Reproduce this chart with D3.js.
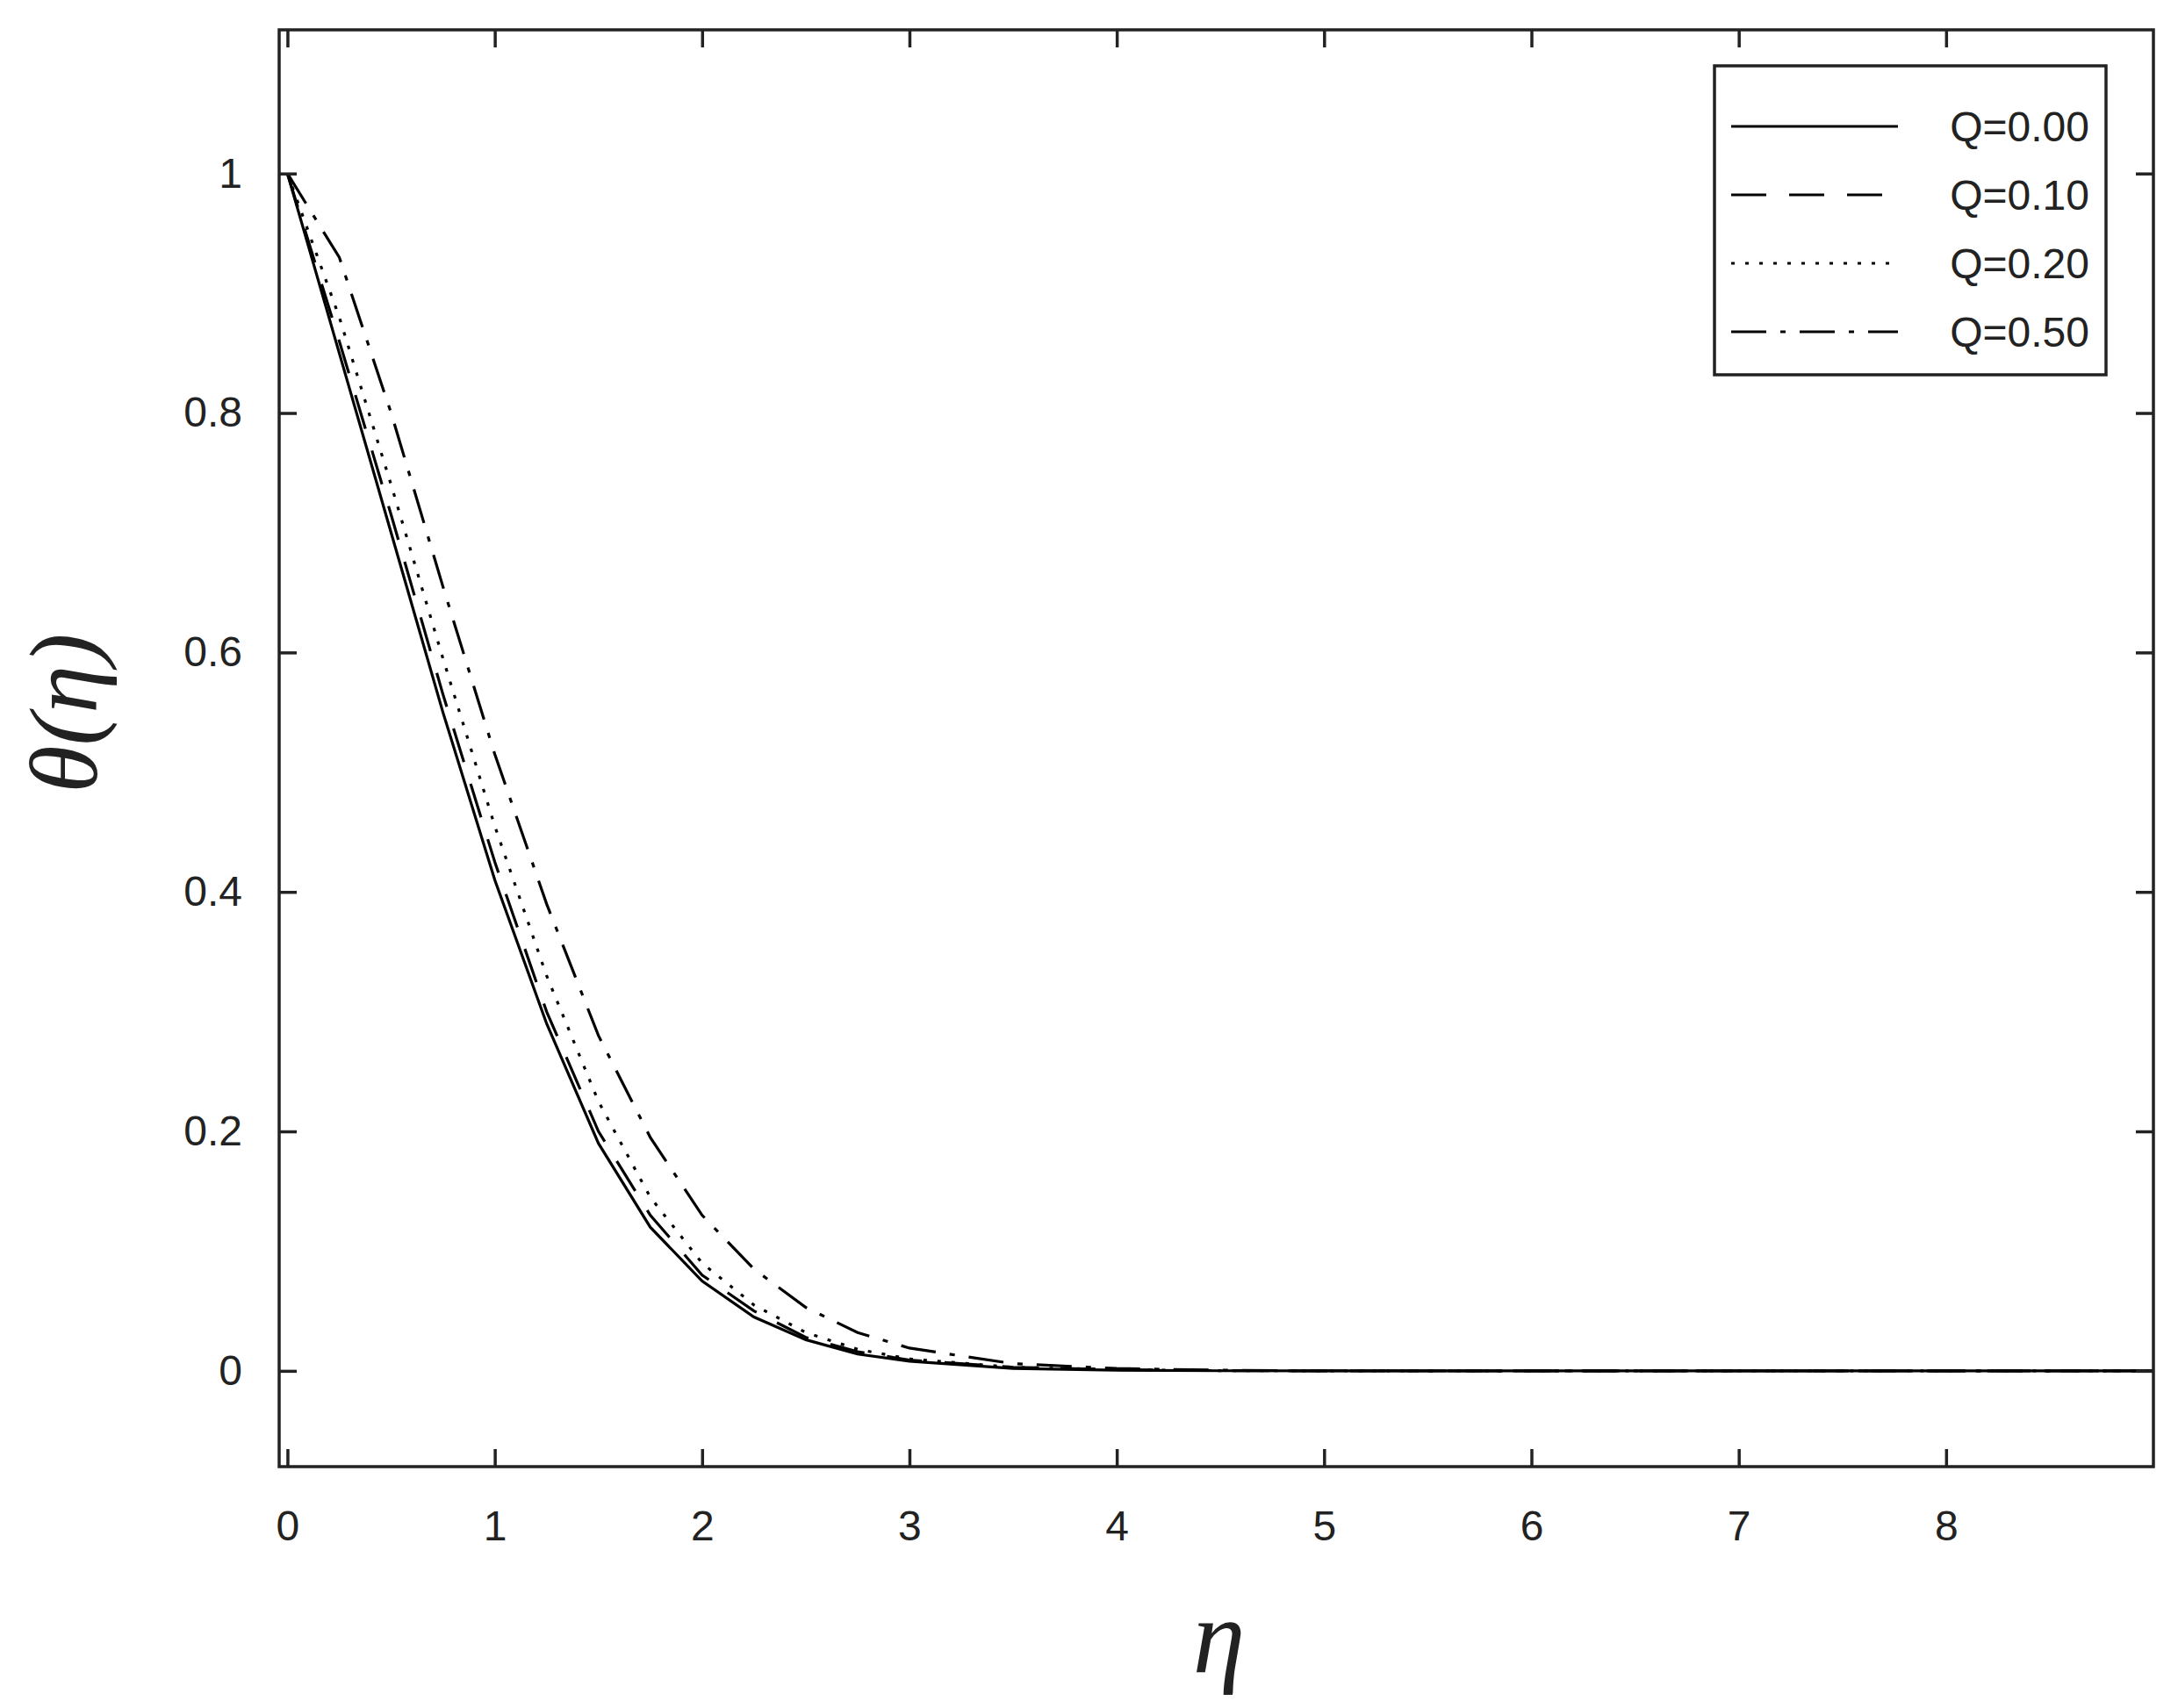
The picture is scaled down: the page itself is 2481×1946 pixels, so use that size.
<!DOCTYPE html>
<html><head><meta charset="utf-8">
<script src="https://cdn.jsdelivr.net/npm/d3@7"></script>
<style>body{margin:0;background:#fff}</style></head>
<body><div id="chart"></div>
<script>
const eta = [0, 0.25, 0.5, 0.75, 1, 1.25, 1.5, 1.75, 2, 2.25, 2.5, 2.75, 3, 3.5, 4, 4.5, 5, 6, 7, 8, 9];
const q000 = [1, 0.85, 0.70, 0.55, 0.41, 0.29, 0.19, 0.12, 0.075, 0.045, 0.026, 0.014, 0.008, 0.002, 0.0005, 0.0001, 0, 0, 0, 0, 0];
const q010 = [1, 0.86, 0.715, 0.565, 0.425, 0.30, 0.20, 0.13, 0.08, 0.05, 0.028, 0.016, 0.009, 0.003, 0.001, 0.0002, 0, 0, 0, 0, 0];
const q020 = [1, 0.88, 0.74, 0.595, 0.455, 0.33, 0.225, 0.145, 0.09, 0.055, 0.032, 0.018, 0.01, 0.003, 0.001, 0.0002, 0, 0, 0, 0, 0];
const q050 = [1, 0.93, 0.80, 0.655, 0.515, 0.39, 0.28, 0.195, 0.13, 0.085, 0.053, 0.032, 0.019, 0.006, 0.002, 0.0005, 0.0001, 0, 0, 0, 0];
const labels = ["Q=0.00", "Q=0.10", "Q=0.20", "Q=0.50"];
const dashes = [null, "40,26", "4,12", "40,16,6,16"];
const series = [q000, q010, q020, q050];
const xTicks = [0, 1, 2, 3, 4, 5, 6, 7, 8];
const yTicks = [0, 0.2, 0.4, 0.6, 0.8, 1];

const W = 2481, H = 1946;
const L = 318, R = 2453, T = 34, B = 1671;
const svg = d3.select("#chart").append("svg").attr("width", W).attr("height", H);
const x = d3.scaleLinear().domain([-0.04, 9.0]).range([L, R]);
const y = d3.scaleLinear().domain([-0.08, 1.12]).range([B, T]);
const font = "Liberation Sans, Arial, sans-serif";
const ink = "#222";

const line = d3.line().x((d, i) => x(eta[i])).y(d => y(d));
series.forEach((s, k) => {
  svg.append("path").attr("d", line(s)).attr("fill", "none")
    .attr("stroke", "#000").attr("stroke-width", 3.2)
    .attr("stroke-dasharray", dashes[k]);
});

// axes with inward ticks on all sides
const tl = 20;
svg.append("g").attr("transform", `translate(0,${B})`)
  .call(d3.axisBottom(x).tickValues(xTicks).tickSize(-tl).tickPadding(tl + 30).tickFormat(d3.format("d")));
svg.append("g").attr("transform", `translate(0,${T})`)
  .call(d3.axisTop(x).tickValues(xTicks).tickSize(-tl).tickFormat(""));
svg.append("g").attr("transform", `translate(${L},0)`)
  .call(d3.axisLeft(y).tickValues(yTicks).tickSize(-tl).tickPadding(tl + 22).tickFormat(d => d === 0 || d === 1 ? d : d.toFixed(1)));
svg.append("g").attr("transform", `translate(${R},0)`)
  .call(d3.axisRight(y).tickValues(yTicks).tickSize(-tl).tickFormat(""));
svg.selectAll(".domain").remove();
svg.selectAll(".tick line").attr("stroke", ink).attr("stroke-width", 3.5);
svg.selectAll(".tick text").attr("font-family", font).attr("font-size", 48).attr("fill", ink);
svg.append("rect").attr("x", L).attr("y", T).attr("width", R - L).attr("height", B - T)
  .attr("fill", "none").attr("stroke", ink).attr("stroke-width", 3.5);

// axis titles
svg.append("text").attr("x", (L + R) / 2 + 3).attr("y", 1905).attr("text-anchor", "middle")
  .attr("font-family", "Liberation Serif, serif").attr("font-style", "italic").attr("font-size", 120)
  .attr("fill", ink).text("η");
svg.append("text").attr("transform", `translate(110,${(T + B) / 2 - 40}) rotate(-90)`).attr("text-anchor", "middle")
  .attr("font-family", "Liberation Serif, serif").attr("font-style", "italic").attr("font-size", 110)
  .attr("fill", ink).text("θ(η)");

// legend
const lg = svg.append("g");
lg.append("rect").attr("x", 1953).attr("y", 75).attr("width", 446).attr("height", 352)
  .attr("fill", "#fff").attr("stroke", ink).attr("stroke-width", 3.5);
labels.forEach((t, k) => {
  const yy = 144 + k * 78;
  lg.append("line").attr("x1", 1972).attr("x2", 2162).attr("y1", yy).attr("y2", yy)
    .attr("stroke", "#000").attr("stroke-width", 3.2).attr("stroke-dasharray", dashes[k]);
  lg.append("text").attr("x", 2380).attr("y", yy + 17).attr("text-anchor", "end")
    .attr("font-family", font).attr("font-size", 48).attr("fill", ink).text(t);
});
</script></body></html>
